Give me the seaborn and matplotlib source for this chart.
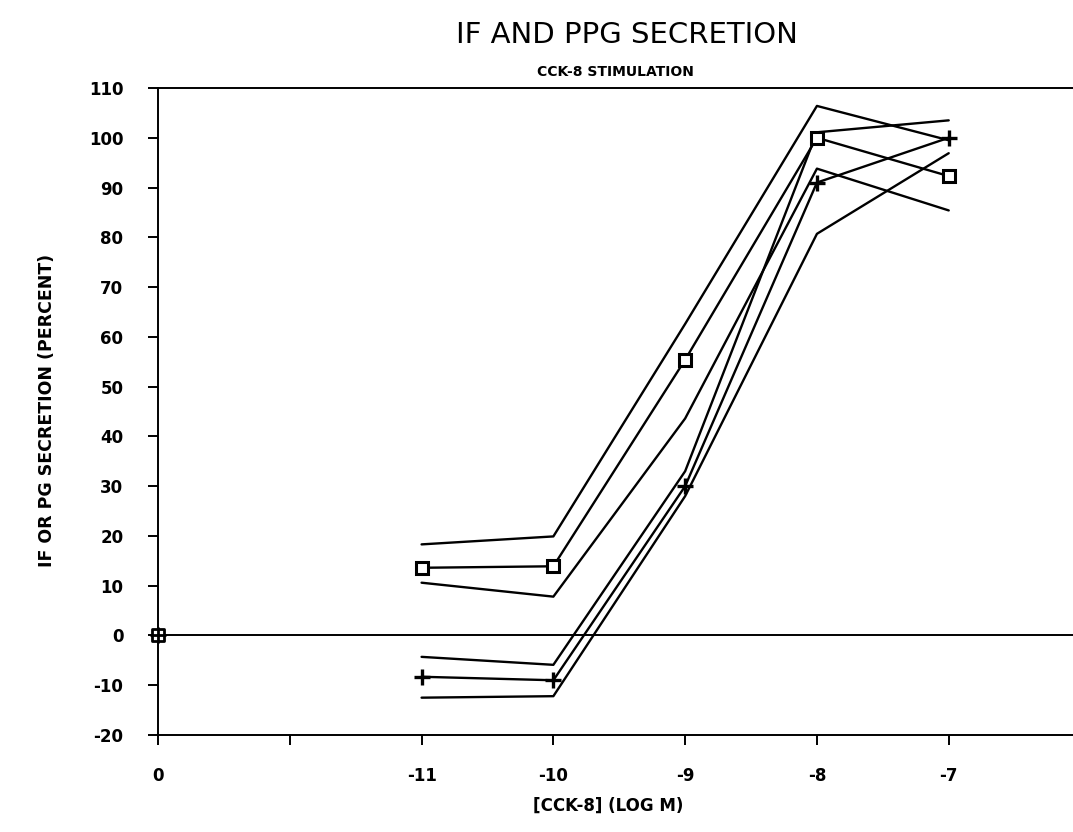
import matplotlib
matplotlib.use("Agg")
import matplotlib.pyplot as plt
import pandas as pd
import seaborn as sns

# CCK-8 dose on a log-molar scale; -13 holds the unstimulated control, labelled "0"
dose = [-11, -10, -9, -8, -7]
control_dose = [-13]
control_value = [0]

# IF secretion (squares) with upper / lower bounds
if_mean = [13.6, 13.9, 55.4, 100.0, 92.3]
if_upper = [18.3, 19.9, 62.6, 106.4, 99.5]
if_lower = [10.6, 7.8, 43.6, 93.8, 85.4]

# PPG secretion (plus signs) with upper / lower bounds
pp_mean = [-8.3, -9.0, 30.0, 91.0, 100.0]
pp_upper = [-4.3, -5.9, 33.0, 101.1, 103.5]
pp_lower = [-12.5, -12.2, 28.0, 80.7, 96.9]

x_ticks = [-13, -12, -11, -10, -9, -8, -7]
x_tick_labels = ["0", "", "-11", "-10", "-9", "-8", "-7"]
y_ticks = list(range(-20, 111, 10))
y_tick_labels = [str(v) for v in y_ticks]

curves = {
    "IF": if_mean, "IF upper": if_upper, "IF lower": if_lower,
    "PPG": pp_mean, "PPG upper": pp_upper, "PPG lower": pp_lower,
}
df = pd.concat(
    [pd.DataFrame({"dose": dose, "value": v, "curve": k}) for k, v in curves.items()],
    ignore_index=True,
)

sns.set_theme(style="white")
plt.rcParams["font.family"] = ["DejaVu Sans"]
plt.rcParams["axes.unicode_minus"] = False
plt.rcParams["text.color"] = "black"
plt.rcParams["axes.labelcolor"] = "black"

fig = plt.figure(figsize=(10.73, 8.32), dpi=100)
ax = fig.add_axes([158 / 1073, 1 - 735 / 832, 1 - 158 / 1073, (735 - 88) / 832])

ink = "black"
lw = 1.7

# bound curves (no markers)
bounds = df[df["curve"].str.contains("upper|lower")]
sns.lineplot(data=bounds, x="dose", y="value", units="curve", estimator=None,
             sort=False, color=ink, linewidth=lw, ax=ax, legend=False)

# mean curves with symbols
sns.lineplot(data=df[df["curve"] == "IF"], x="dose", y="value", estimator=None,
             sort=False, color=ink, linewidth=lw, marker="s", markersize=9,
             markerfacecolor="white", markeredgecolor=ink, markeredgewidth=2.2,
             ax=ax, legend=False, zorder=4)
sns.lineplot(data=df[df["curve"] == "PPG"], x="dose", y="value", estimator=None,
             sort=False, color=ink, linewidth=lw, marker="+", markersize=12,
             markeredgecolor=ink, markerfacecolor=ink, markeredgewidth=2.4,
             ax=ax, legend=False, zorder=4)

# control point shared by both series
sns.scatterplot(x=control_dose, y=control_value, marker="s", s=80,
                facecolor="white", edgecolor=ink, linewidth=2.0, ax=ax,
                zorder=5, legend=False, clip_on=False)
sns.scatterplot(x=control_dose, y=control_value, marker="+", s=130,
                color=ink, edgecolor=ink, linewidth=2.0, ax=ax, zorder=6,
                legend=False, clip_on=False)

# zero reference line
ax.axhline(0, color=ink, linewidth=1.4, zorder=2)

ax.set_xlim(-13, -6.057)
ax.set_ylim(-20, 110)
ax.set_xticks(x_ticks)
ax.set_xticklabels(x_tick_labels)
ax.set_yticks(y_ticks)
ax.set_yticklabels(y_tick_labels)

for side in ("left", "bottom", "top"):
    ax.spines[side].set_visible(True)
    ax.spines[side].set_color(ink)
    ax.spines[side].set_linewidth(1.4)
ax.spines["right"].set_visible(False)

ax.tick_params(axis="y", direction="out", length=7, width=1.4, pad=18,
               labelsize=12, colors=ink, left=True)
ax.tick_params(axis="x", direction="out", length=7, width=1.4, pad=16,
               labelsize=12, colors=ink, bottom=True)
for lab in ax.get_xticklabels() + ax.get_yticklabels():
    lab.set_fontweight("bold")

ax.set_xlabel("[CCK-8] (LOG M)", fontsize=12, fontweight="bold", color=ink)
ax.set_ylabel("IF OR PG SECRETION (PERCENT)", fontsize=12.5, fontweight="bold",
              color=ink)
ax.xaxis.set_label_coords((608 - 158) / (1073 - 158), -(797 - 735) / (735 - 88))
ax.yaxis.set_label_coords(-(158 - 56) / (1073 - 158), (735 - 410) / (735 - 88))

fig.text(627 / 1073, 1 - 35 / 832, "IF AND PPG SECRETION", fontsize=21,
         ha="center", va="center", color=ink)
fig.text(615 / 1073, 1 - 72 / 832, "CCK-8 STIMULATION", fontsize=10,
         fontweight="bold", ha="center", va="center", color=ink)

ax.set_facecolor("white")
fig.patch.set_facecolor("white")
fig.savefig("out.png", dpi=100, facecolor="white")
